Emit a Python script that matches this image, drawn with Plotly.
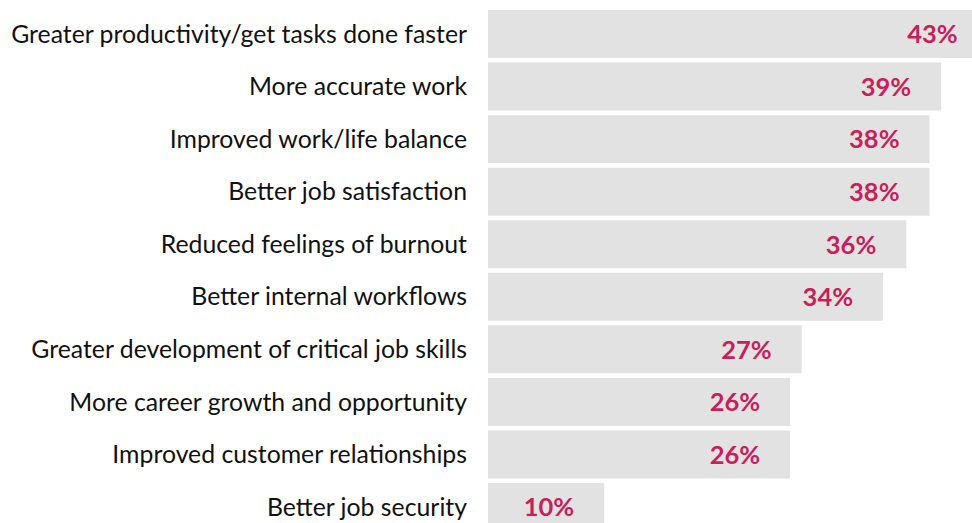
import plotly.graph_objects as go

categories = [
    "Greater productivity/get tasks done faster",
    "More accurate work",
    "Improved work/life balance",
    "Better job satisfaction",
    "Reduced feelings of burnout",
    "Better internal workflows",
    "Greater development of critical job skills",
    "More career growth and opportunity",
    "Improved customer relationships",
    "Better job security",
]
values = [43, 39, 38, 38, 36, 34, 27, 26, 26, 10]
labels = [f"{v}%" for v in values]

W, H = 972, 523
ML = 488
PX_PER_UNIT = 11.62
XMAX = (W - ML) / PX_PER_UNIT
LABEL_SHIFT_PX = 30
Y_RANGE = [9.3037, -0.6469]
BAND_PX = 52.56
LABEL_DOWN_PX = 3

fig = go.Figure()
fig.add_trace(go.Bar(
    x=values, y=categories, orientation="h",
    marker=dict(color="#E2E2E2", line=dict(width=0)),
    hoverinfo="skip",
))
fig.add_trace(go.Scatter(
    x=[v - LABEL_SHIFT_PX / PX_PER_UNIT for v in values],
    y=categories,
    yaxis="y2",
    mode="text",
    text=labels,
    textposition="middle left",
    textfont=dict(family="Lato", size=25.5, color="#C81E5A", weight="bold"),
    cliponaxis=False,
    hoverinfo="skip",
))

off = LABEL_DOWN_PX / BAND_PX
fig.update_layout(
    width=W, height=H,
    margin=dict(l=ML, r=0, t=0, b=0),
    paper_bgcolor="white", plot_bgcolor="white",
    showlegend=False,
    bargap=0.087,
    font=dict(family="Lato", color="#111111"),
    yaxis2=dict(type="category", categoryorder="array", categoryarray=categories,
                overlaying="y", range=[Y_RANGE[0] - off, Y_RANGE[1] - off],
                visible=False, showgrid=False, zeroline=False),
)
fig.update_xaxes(range=[0, XMAX], showgrid=False, zeroline=False,
                 showticklabels=False, showline=False)
fig.update_yaxes(selector=dict(overlaying=None), range=Y_RANGE, showgrid=False, zeroline=False,
                 showline=False, ticks="", ticklabelstandoff=20,
                 tickfont=dict(family="Lato", size=24.8, color="#111111"))
fig.layout.yaxis.update(range=Y_RANGE, showgrid=False, zeroline=False,
                        showline=False, ticks="", ticklabelstandoff=20,
                        tickfont=dict(family="Lato", size=24.8, color="#111111"))

fig.write_html("out.html")
